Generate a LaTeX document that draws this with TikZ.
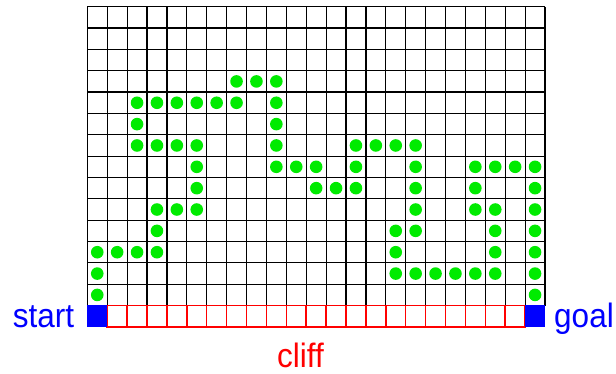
\documentclass[tikz,border=0pt]{standalone}
\usepackage{fontspec}
\setmainfont{Liberation Sans}
\definecolor{dotgreen}{RGB}{0,235,0}
\definecolor{pureblue}{RGB}{0,0,255}
\definecolor{purered}{RGB}{255,0,0}
\begin{document}
\begin{tikzpicture}[x=1pt,y=1pt,
  gridline/.style={black,line width=1.2pt},
  cliffline/.style={purered,line width=1.5pt},
  endcell/.style={fill=pureblue,draw=none},
  dot/.style={circle,fill=dotgreen,draw=none,inner sep=0pt,minimum size=12.6pt},
  lbl/.style={font=\fontsize{31.5}{36}\selectfont,inner sep=0pt,anchor=base}]
\useasboundingbox (0,0) rectangle (616,374);
\begin{scope}[shift={(87.3,367.3)},x=19.9pt,y=-21.35pt]
  % black grid, rows 0..13
  \foreach \c in {0,...,23} \draw[gridline] (\c,0) -- (\c,14);
  \foreach \r in {0,...,14} \draw[gridline] (0,\r) -- (23,\r);
  % cliff row
  \foreach \c in {1,...,21} \draw[cliffline] (\c,14) rectangle (\c+1,15);
  \fill[endcell] (0,13.97) rectangle (1,15);
  \fill[endcell] (22,13.97) rectangle (23,15);
  % path dots: row / columns
  \foreach \r/\cols in {
      3/{7,8,9},
      4/{2,3,4,5,6,7,9},
      5/{2,9},
      6/{2,3,4,5,9,13,14,15,16},
      7/{5,9,10,11,13,16,19,20,21,22},
      8/{5,11,12,13,16,19,22},
      9/{3,4,5,16,19,20,22},
      10/{3,15,16,20,22},
      11/{0,1,2,3,15,20,22},
      12/{0,15,16,17,18,19,20,22},
      13/{0,22}}{
    \foreach \c in \cols
      \node[dot] (d-\r-\c) at (\c+0.5,\r+0.5) {};
  }
\end{scope}
\node[lbl,text=pureblue] (start) at (43.5,46) {\scalebox{1}[1.073]{start}};
\node[lbl,text=pureblue] (goal) at (584,46) {\scalebox{1}[1.073]{goal}};
\node[lbl,text=purered] (cliff) at (300.5,6) {\scalebox{1}[1.073]{cliff}};
\end{tikzpicture}
\end{document}
